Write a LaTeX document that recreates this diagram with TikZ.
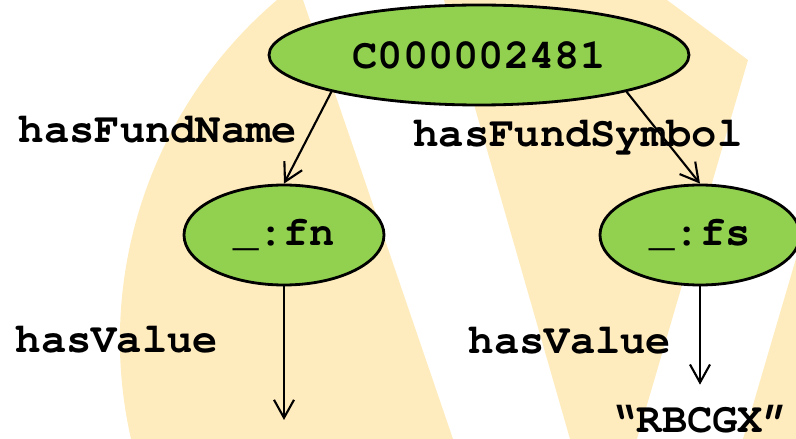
\documentclass[tikz,border=0pt]{standalone}
\usepackage{fontspec}
\setmonofont{TeX Gyre Cursor}
\usetikzlibrary{shapes.geometric,arrows.meta}
\definecolor{rdfgreen}{RGB}{146,208,80}
\definecolor{wmark}{RGB}{255,236,190}

\begin{document}
\begin{tikzpicture}[>={Straight Barb[length=1.8mm,width=2mm]},line width=0.6pt,
        font=\ttfamily\bfseries\fontsize{12}{14}\selectfont]
            \tikzstyle{vertex}=[ellipse,draw=black,fill=rdfgreen,line width=0.8pt,inner sep=1pt]
            \tikzstyle{prop}=[anchor=base]
            \tikzstyle{lit}=[anchor=base,inner sep=2mm]

            \useasboundingbox (0,0) rectangle (7.96,-4.39);
            \clip (0,0) rectangle (7.96,-4.39);

            % watermark in the background
            \fill[wmark] (3.03,0) -- (4.53,-4.39) -- (1.31,-4.39)
                arc[start angle=192.8,end angle=130.4,radius=4.466] -- cycle;
            \fill[wmark] (4.44,0) -- (5.70,-4.39) -- (6.37,-4.39) -- (7.48,-0.60) -- (6.67,0) -- cycle;
            \fill[wmark] (7.43,-4.39) -- (8.0,-2.45) -- (8.0,-4.39) -- cycle;

            \node[vertex,minimum width=4.2cm,minimum height=1cm] (root) at (4.79,-0.55) {C000002481};
            \foreach \name/\x in {fn/2.84, fs/7.00}
                    \node[vertex,minimum width=2cm,minimum height=1cm] (\name) at (\x,-2.35) {\_:\name};

                \coordinate (fnval) at (2.84,-4.20);
                \node[lit] (lit) at (7.00,-4.33) {“RBCGX”};

                \foreach \ang/\to in {-166/fn, -14/fs}
                    \draw[->] (root.\ang) -- (\to.north);
                \draw[->] (fn.south) -- (fnval);
                \draw[->] (fs.south) -- (lit.north);

                \node[prop] (namelabel) at (1.58,-1.43) {hasFundName};
                \node[prop] (symlabel) at (5.78,-1.47) {hasFundSymbol};
                \node[prop] (fnvallabel) at (1.17,-3.53) {hasValue};
                \node[prop] (fsvallabel) at (5.70,-3.54) {hasValue};
        \end{tikzpicture}
\end{document}
